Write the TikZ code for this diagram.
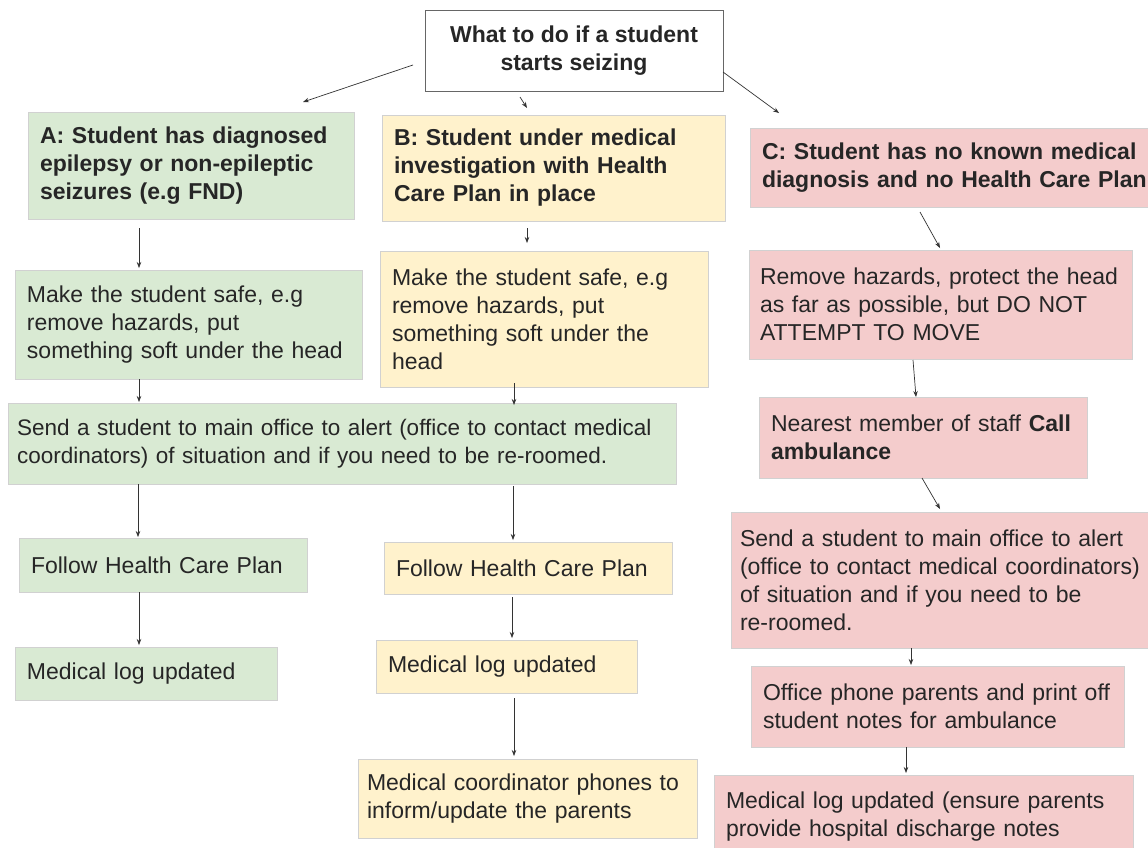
\documentclass[tikz,border=0pt]{standalone}
\usepackage{fontspec}
\setmainfont{Liberation Sans}
\usetikzlibrary{arrows.meta}
\definecolor{gbox}{HTML}{D9EAD3}
\definecolor{ybox}{HTML}{FFF2CC}
\definecolor{rbox}{HTML}{F4CCCC}

\begin{document}
\begin{tikzpicture}[x=1pt, y=-1pt,
    every node/.style={outer sep=0pt, inner xsep=12pt, inner ysep=0pt, align=left, text=black!85, font=\fontsize{23}{28}\selectfont},
    bold/.style={font=\fontsize{23}{28}\selectfont\bfseries},
    cell/.style={draw=black!18, line width=0.6pt},
    gcell/.style={cell, fill=gbox},
    ycell/.style={cell, fill=ybox},
    rcell/.style={cell, fill=rbox},
    arr/.style={-{Stealth[length=6pt,width=4.5pt]}, line width=0.7pt, black!80}]
    \useasboundingbox (0,0) rectangle (1148,847);
    \fill[white] (0,0) rectangle (1148,847);
    \clip (0,0) rectangle (1148,847);
    % top question
    \node[bold, draw=black!60, fill=white, align=center, minimum width=298pt, minimum height=81pt] (title) at (574,50.5) {What to do if a student\\starts seizing};
    % column A
    \node[gcell, bold, text width=302pt, minimum height=107pt] (A) at (191,165.5) {A: Student has diagnosed\\epilepsy or non-epileptic\\seizures (e.g FND)};
    \node[gcell, text width=323pt, minimum height=109pt] (A2) at (188.5,324.5) {Make the student safe, e.g\\remove hazards, put\\something soft under the head};
    \node[gcell, inner xsep=9pt, text width=650pt, minimum height=81pt, font=\fontsize{22.5}{28}\selectfont] (send) at (342,443.5) {Send a student to main office to alert (office to contact medical\\coordinators) of situation and if you need to be re-roomed.};
    \node[gcell, text width=264pt, minimum height=54pt] (A3) at (163,565) {Follow Health Care Plan};
    \node[gcell, text width=238pt, minimum height=53pt] (A4) at (146,673.5) {Medical log updated};
    % column B
    \node[ycell, bold, text width=319pt, minimum height=106pt] (B) at (553.5,168) {B: Student under medical\\investigation with Health\\Care Plan in place};
    \node[ycell, text width=304pt, minimum height=136pt] (B2) at (544,319) {Make the student safe, e.g\\remove hazards, put\\something soft under the\\head};
    \node[ycell, text width=264pt, minimum height=52pt] (B3) at (528,568) {Follow Health Care Plan};
    \node[ycell, text width=237pt, minimum height=53pt] (B4) at (506.5,666.5) {Medical log updated};
    \node[ycell, inner xsep=9pt, text width=321pt, minimum height=79pt] (B5) at (527.5,798.5) {Medical coordinator phones to\\inform/update the parents};
    % column C
    \node[rcell, bold, text width=396pt, minimum height=79pt] (C) at (960,167.5) {C: Student has no known medical\\diagnosis and no Health Care Plan};
    \node[rcell, inner xsep=11pt, text width=361pt, minimum height=109pt] (C2) at (940.5,304.5) {Remove hazards, protect the head\\as far as possible, but DO NOT\\ATTEMPT TO MOVE};
    \node[rcell, text width=304pt, minimum height=81pt] (C3) at (923,437.5) {Nearest member of staff \textbf{Call}\\\textbf{ambulance}};
    \node[rcell, inner xsep=9pt, text width=401pt, minimum height=136pt] (C4) at (940.5,580) {Send a student to main office to alert\\(office to contact medical coordinators)\\of situation and if you need to be\\re-roomed.};
    \node[rcell, text width=349pt, minimum height=81pt] (C5) at (937.5,706.5) {Office phone parents and print off\\student notes for ambulance};
    \node[rcell, text width=395pt, minimum height=83pt] (C6) at (923.5,816.5) {Medical log updated (ensure parents\\provide hospital discharge notes};
    % arrows
    \draw[arr] ([shift={(-12,14.5)}]title.west) -- ([shift={(112,-10)}]A.north);
    \draw[arr] ([shift={(-54,6)}]title.south) -- ([shift={(-26.5,-7)}]B.north);
    \draw[arr] ([shift={(0,21.5)}]title.east) -- ([shift={(-181,-15)}]C.north);
    \draw[arr] ([shift={(-52,9)}]A.south) -- ([shift={(-49.5,-2)}]A2.north);
    \draw[arr] ([shift={(-26.5,7)}]B.south) -- ([shift={(-17,-8)}]B2.north);
    \draw[arr] ([shift={(-40,5)}]C.south) -- ([shift={(-0.5,-2)}]C2.north);
    \draw[arr] ([shift={(-49.5,0)}]A2.south) -- ([shift={(-203,-1)}]send.north);
    \draw[arr] ([shift={(-30,-4)}]B2.south) -- ([shift={(172,2)}]send.north);
    \draw[arr] ([shift={(-27.5,1)}]C2.south) -- ([shift={(-7,0)}]C3.north);
    \draw[arr] ([shift={(-1,0)}]C3.south) -- ([shift={(-0.5,-3)}]C4.north);
    \draw[arr] ([shift={(-204,0)}]send.south) -- ([shift={(-25,-1)}]A3.north);
    \draw[arr] ([shift={(171,2)}]send.south) -- ([shift={(-15,-2)}]B3.north);
    \draw[arr] ([shift={(-24,0)}]A3.south) -- ([shift={(-7,-2)}]A4.north);
    \draw[arr] ([shift={(-16,3)}]B3.south) -- ([shift={(5.5,-2)}]B4.north);
    \draw[arr] ([shift={(7.5,5)}]B4.south) -- ([shift={(-13.5,-3)}]B5.north);
    \draw[arr] ([shift={(-29.5,0)}]C4.south) -- ([shift={(-26.5,-1)}]C5.north);
    \draw[arr] ([shift={(-31.5,0)}]C5.south) -- ([shift={(-17.5,-2)}]C6.north);
\end{tikzpicture}
\end{document}
